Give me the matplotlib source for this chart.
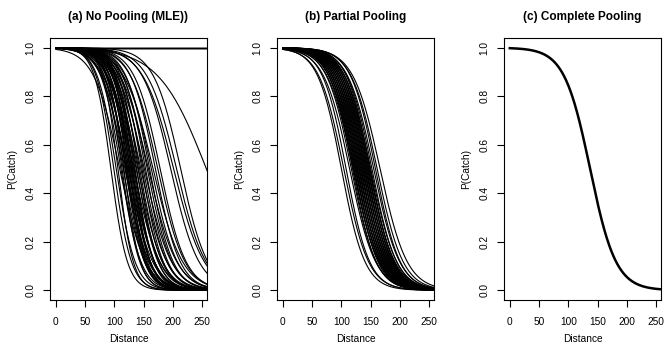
import numpy as np
import matplotlib
matplotlib.use("Agg")
import matplotlib.pyplot as plt

plt.rcParams["font.family"] = ["Liberation Sans", "DejaVu Sans"]

# logistic curves: P(catch) = 1 / (1 + exp((d - mid) / scale))
# (a) no pooling: one curve per group
mid_a = [94, 99, 103, 106, 109, 111, 113, 115, 116, 118, 119, 120, 121, 122,
         123, 124, 125, 126, 127, 128, 129, 130, 131, 132, 133, 134, 135, 137,
         138, 140, 141, 143, 145, 147, 149, 151, 153, 156, 158, 160, 163, 166,
         170, 174, 178, 196, 201, 206, 213, 257]
scale_a = [14, 15, 16, 13, 22, 17, 15, 18, 14, 20, 16, 17, 19, 15,
           21, 16, 18, 14, 17, 20, 16, 19, 15, 18, 22, 17, 16, 20,
           18, 21, 17, 19, 22, 18, 20, 23, 19, 21, 24, 20, 22, 25,
           21, 23, 22, 24, 26, 25, 23, 41]
n_flat_a = 3  # groups with P(catch) = 1 everywhere

# (b) partial pooling
mid_b = [100, 104, 108, 114, 117, 119, 120, 121, 122, 123, 124, 125, 126, 127,
         128, 129, 130, 131, 132, 133, 134, 135, 136, 137, 138, 139, 140, 141,
         142, 143, 144, 145, 146, 147, 148, 149, 150, 152, 155, 158, 161, 166]
scale_b = [20, 21, 20, 22, 21, 20, 22, 21, 20, 22, 21, 20, 22, 21,
           20, 22, 21, 20, 22, 21, 20, 22, 21, 20, 22, 21, 20, 22,
           21, 20, 22, 21, 20, 22, 21, 20, 22, 21, 22, 21, 22, 23]

# (c) complete pooling
mid_c = 137
scale_c = 22

titles = ["(a) No Pooling (MLE))", "(b) Partial Pooling", "(c) Complete Pooling"]

dist = np.linspace(0, 260, 300)


def p_catch(mid, scale):
    return 1.0 / (1.0 + np.exp((dist - mid) / scale))


W, H = 664, 350
fig = plt.figure(figsize=(W / 100, H / 100), dpi=100)
lefts = [50, 277, 504]
axes = [fig.add_axes([l / W, 50 / H, 157 / W, 262 / H]) for l in lefts]

ax = axes[0]
for m, s in zip(mid_a, scale_a):
    ax.plot(dist, p_catch(m, s), color="black", linewidth=0.8)
for _ in range(n_flat_a):
    ax.plot(dist, np.ones_like(dist), color="black", linewidth=1.0)

ax = axes[1]
for m, s in zip(mid_b, scale_b):
    ax.plot(dist, p_catch(m, s), color="black", linewidth=0.8)

ax = axes[2]
ax.plot(dist, p_catch(mid_c, scale_c), color="black", linewidth=1.8)

for ax, t in zip(axes, titles):
    ax.set_xlim(-9.9, 257.9)
    ax.set_ylim(-0.04, 1.04)
    ax.set_xticks([0, 50, 100, 150, 200, 250])
    ax.set_yticks([0, 0.2, 0.4, 0.6, 0.8, 1.0])
    ax.set_yticklabels(["0.0", "0.2", "0.4", "0.6", "0.8", "1.0"],
                       rotation=90, va="center")
    ax.tick_params(direction="out", length=4.8, width=0.8, labelsize=7.3)
    ax.tick_params(axis="x", pad=7.5)
    ax.tick_params(axis="y", pad=5.5)
    for sp in ax.spines.values():
        sp.set_linewidth(0.8)
        sp.set_color("black")
    ax.set_xlabel("Distance", fontsize=7.3)
    ax.set_ylabel("P(Catch)", fontsize=7.3)
    ax.xaxis.set_label_coords(0.5, -0.13)
    ax.yaxis.set_label_coords(-0.21, 0.5)
    ax.set_title(t, fontsize=8.5, fontweight="bold", pad=13)

fig.savefig("out.png", dpi=100)
